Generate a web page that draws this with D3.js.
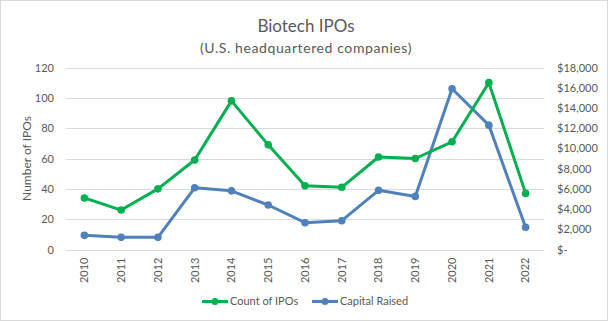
<!DOCTYPE html>
<html>
<head>
<meta charset="utf-8">
<script src="https://cdn.jsdelivr.net/npm/d3@7"></script>
<style>
  html, body { margin: 0; padding: 0; background: #fff; }
  svg { display: block; font-family: Lato, "Open Sans", sans-serif; }
</style>
</head>
<body>
<svg id="chart" width="608" height="321"></svg>
<script>
// Biotech IPOs by year, U.S.-headquartered companies
const years = ["2010","2011","2012","2013","2014","2015","2016","2017","2018","2019","2020","2021","2022"];
const ipoCount = [34, 26, 40, 59, 98, 69, 42, 41, 61, 60, 71, 110, 37];
const capitalRaised = [1400, 1200, 1200, 6100, 5800, 4400, 2650, 2850, 5850, 5250, 15900, 12300, 2200];
const countTicks = [0, 20, 40, 60, 80, 100, 120];
const capitalTicks = [0, 2000, 4000, 6000, 8000, 10000, 12000, 14000, 16000, 18000];

const textColor = "#595959";
const gridColor = "#d9d9d9";
const green = "#00b050";
const blue = "#4f81bd";

const svg = d3.select("#chart");
const W = 608, H = 321;
const m = { left: 66, right: 544, top: 67.5, bottom: 249.5 };

// chart frame
svg.append("rect").attr("x", 0.5).attr("y", 0.5).attr("width", W - 1).attr("height", H - 1)
  .attr("fill", "#fff").attr("stroke", gridColor);

const x = d3.scaleBand().domain(years).range([m.left, m.right]);
const yL = d3.scaleLinear().domain([0, 120]).range([m.bottom, m.top]);
const yR = d3.scaleLinear().domain([0, 18000]).range([m.bottom, m.top]);

// titles
svg.append("text").attr("x", W / 2 + 2).attr("y", 32).attr("text-anchor", "middle")
  .attr("font-size", 17).attr("fill", textColor).text("Biotech IPOs");
svg.append("text").attr("x", W / 2 + 2).attr("y", 53).attr("text-anchor", "middle")
  .attr("font-size", 14).attr("letter-spacing", 0.6).attr("fill", textColor).text("(U.S. headquartered companies)");

// gridlines
svg.append("g").selectAll("line").data(countTicks).join("line")
  .attr("x1", m.left).attr("x2", m.right)
  .attr("y1", d => Math.round(yL(d)) + 0.5).attr("y2", d => Math.round(yL(d)) + 0.5)
  .attr("stroke", gridColor).attr("stroke-width", 1);

// left axis
const leftAxis = svg.append("g").attr("transform", `translate(${m.left},0)`)
  .call(d3.axisLeft(yL).tickValues(countTicks).tickSize(0).tickPadding(12));
leftAxis.select(".domain").remove();
leftAxis.selectAll("text").attr("fill", textColor).attr("font-size", 11).attr("font-family", "Lato, sans-serif");

// right axis (accounting-style dollar labels)
const fmtDollar = d => d === 0 ? "$-" : "$" + d3.format(",")(d);
const rightAxis = svg.append("g").attr("transform", `translate(${m.right},0)`)
  .call(d3.axisRight(yR).tickValues(capitalTicks).tickSize(0).tickPadding(13).tickFormat(fmtDollar));
rightAxis.select(".domain").remove();
rightAxis.selectAll("text").attr("fill", textColor).attr("font-size", 11).attr("font-family", "Lato, sans-serif");

// bottom axis with rotated year labels
const bottomAxis = svg.append("g").attr("transform", `translate(0,${m.bottom})`)
  .call(d3.axisBottom(x).tickSize(0).tickPadding(0));
bottomAxis.select(".domain").remove();
bottomAxis.selectAll("text")
  .attr("fill", textColor).attr("font-size", 11).attr("font-family", "Lato, sans-serif")
  .attr("text-anchor", "end").attr("dy", "0.35em")
  .attr("transform", "translate(0,8) rotate(-90)");

// left axis title
svg.append("text").attr("transform", `translate(31,${(m.top + m.bottom) / 2}) rotate(-90)`)
  .attr("text-anchor", "middle").attr("font-size", 12).attr("fill", textColor).text("Number of IPOs");

// series
const cx = d => x(d) + x.bandwidth() / 2;
function drawSeries(values, yScale, color) {
  const pts = years.map((yr, i) => [cx(yr), yScale(values[i])]);
  svg.append("path").attr("d", d3.line()(pts)).attr("fill", "none")
    .attr("stroke", color).attr("stroke-width", 3).attr("stroke-linejoin", "round").attr("stroke-linecap", "round");
  svg.append("g").selectAll("circle").data(pts).join("circle")
    .attr("cx", d => d[0]).attr("cy", d => d[1]).attr("r", 3.8).attr("fill", color);
}
drawSeries(capitalRaised, yR, blue);
drawSeries(ipoCount, yL, green);

// legend
const legend = [
  { label: "Count of IPOs", color: green, x: 202 },
  { label: "Capital Raised", color: blue, x: 312 }
];
const lg = svg.append("g").selectAll("g").data(legend).join("g")
  .attr("transform", d => `translate(${d.x},301.5)`);
lg.append("line").attr("x1", 0).attr("x2", 26).attr("stroke", d => d.color).attr("stroke-width", 3);
lg.append("circle").attr("cx", 13).attr("r", 3.5).attr("fill", d => d.color);
lg.append("text").attr("x", 28).attr("dy", "0.35em").attr("font-size", 11).attr("fill", textColor)
  .text(d => d.label);
</script>
</body>
</html>
